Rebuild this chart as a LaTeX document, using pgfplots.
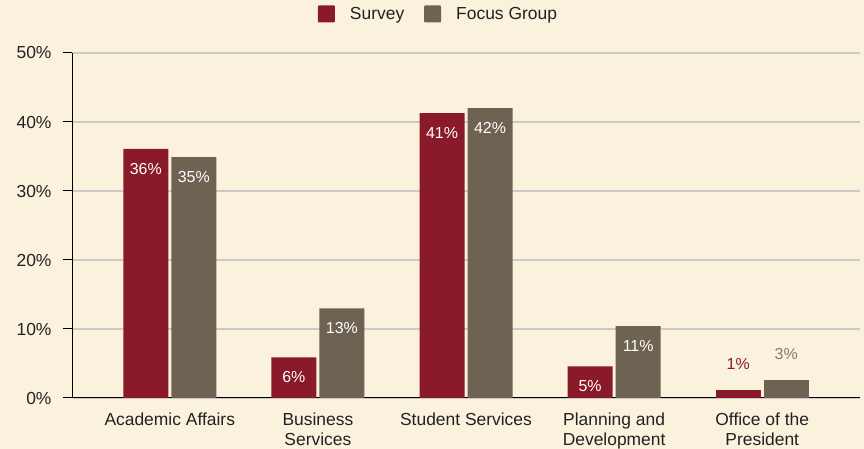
\documentclass[border=0pt]{standalone}
\usepackage{pgfplots}
\pgfplotsset{compat=1.18}
\usepackage{fontspec}
\setmainfont{Liberation Sans}
\definecolor{bg}{HTML}{FAF2DC}
\definecolor{surv}{HTML}{8A1A2A}
\definecolor{focus}{HTML}{6E6353}
\definecolor{gridc}{HTML}{CACACA}
\definecolor{txt}{HTML}{222222}
\begin{document}
\begin{tikzpicture}
\fill[bg] (0,0) rectangle (864bp,449bp);
\begin{axis}[
  scale only axis, width=788bp, height=345bp,
  anchor=south west, at={(72bp,51bp)},
  xmin=-0.66, xmax=4.66, ymin=0, ymax=50,
  ybar, bar width=45bp,
  legend image code/.code={\draw[#1,/tikz/.cd,draw=none,rounded corners=1bp] (0bp,-8.5bp) rectangle (17bp,8.5bp);},
  axis x line=bottom, axis y line=left,
  axis line style={-, black, line width=1bp},
  ytick={0,10,...,50},
  yticklabel={\pgfmathprintnumber{\tick}\%},
  /pgf/number format/assume math mode=true,
  ymajorgrids, grid style={gridc, line width=1.3bp},
  tick align=outside, major tick length=9bp,
  ytick style={black, line width=1bp},
  yticklabel style={xshift=-8bp},
  xtick={0,1,2,3,4},
  xticklabels={Academic Affairs,{Business\\Services},Student Services,{Planning and\\Development},{Office of the\\President}},
  xtick style={draw=none},
  xticklabel style={align=center, yshift=-2bp},
  every tick label/.append style={font=\fontsize{17.5}{20}\selectfont, text=txt},
  legend columns=2,
  legend style={draw=none, fill=none, at={(axis description cs:0.5,1)}, anchor=center,
    xshift=-27.5bp, yshift=39bp, font=\fontsize{17.5}{20}\selectfont, text=txt,
    /tikz/every odd column/.append style={column sep=13bp},
    /tikz/every even column/.append style={column sep=18bp}},
  nodes near coords style={font=\fontsize{16}{19}\selectfont},
  point meta=explicit symbolic,
]
\addplot[fill=surv, draw=none, bar shift=-24bp,
  nodes near coords, nodes near coords style={white, anchor=north, yshift=-11bp}]
  coordinates {(0,36.1)[36\%] (1,5.9)[6\%] (2,41.3)[41\%] (3,4.6)[5\%]};
\addlegendentry{Survey}
\addplot[fill=focus, draw=none, bar shift=24bp,
  nodes near coords, nodes near coords style={white, anchor=north, yshift=-11bp}]
  coordinates {(0,34.9)[35\%] (1,13.0)[13\%] (2,42.0)[42\%] (3,10.4)[11\%]};
\addlegendentry{Focus Group}
\addplot[fill=surv, draw=none, bar shift=-24bp, forget plot,
  nodes near coords, nodes near coords style={surv, anchor=south, yshift=17bp}]
  coordinates {(4,1.2)[1\%]};
\addplot[fill=focus, draw=none, bar shift=24bp, forget plot,
  nodes near coords, nodes near coords style={focus!85, anchor=south, yshift=17bp}]
  coordinates {(4,2.6)[3\%]};
\end{axis}
\pgfresetboundingbox
\useasboundingbox (0,0) rectangle (864bp,449bp);
\end{tikzpicture}
\end{document}
